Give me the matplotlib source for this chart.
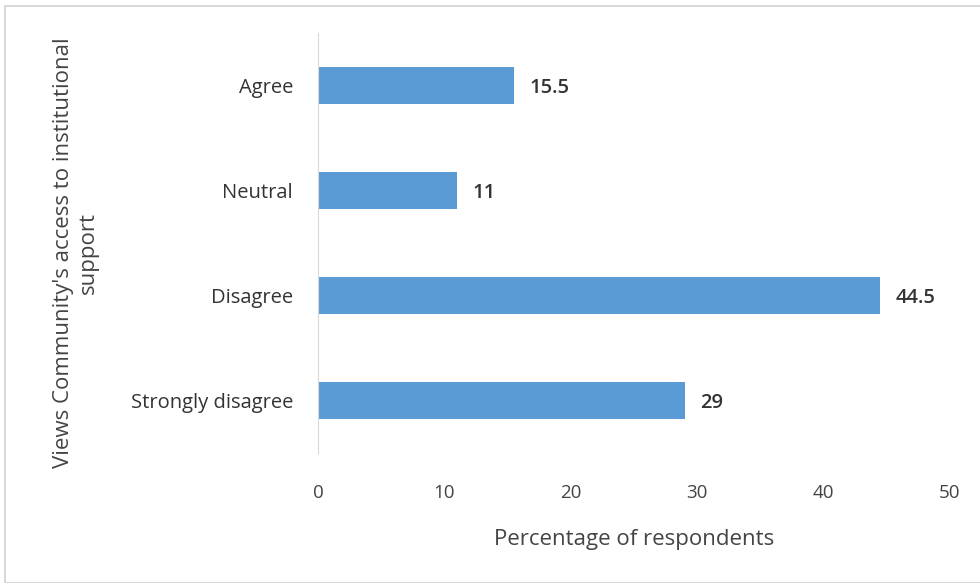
"""Horizontal bar chart: views on community's access to institutional support"""

import matplotlib.pyplot as plt
from matplotlib.patches import Rectangle

categories = ["Strongly disagree", "Disagree", "Neutral", "Agree"]
percentages = [29, 44.5, 11, 15.5]
value_labels = ["29", "44.5", "11", "15.5"]
x_ticks = [0, 10, 20, 30, 40, 50]


def main():
    plt.rcParams["font.family"] = ["Open Sans", "DejaVu Sans"]
    fig = plt.figure(figsize=(9.8, 5.83), dpi=100)
    ax = fig.add_axes([318 / 980, 1 - 453 / 583, (950 - 318) / 980, 420 / 583])

    ax.barh(categories, percentages, height=0.36, color="#5b9bd5")
    for i, (v, lab) in enumerate(zip(percentages, value_labels)):
        ax.text(v + 1.2, i - 0.02, lab, va="center", ha="left", fontsize=14.5,
                color="#333333", fontweight="semibold")

    ax.set_xlim(0, 50)
    ax.set_ylim(-0.5, 3.5)
    ax.set_xticks(x_ticks)
    ax.tick_params(axis="x", length=0, pad=22, labelsize=13.5, labelcolor="#444444")
    ax.tick_params(axis="y", length=0, pad=18, labelsize=14.5, labelcolor="#333333")
    for side in ["top", "right", "bottom"]:
        ax.spines[side].set_visible(False)
    ax.spines["left"].set_color("#d9d9d9")

    ax.set_xlabel("Percentage of respondents", fontsize=16, color="#444444",
                  labelpad=20)
    fig.text(76 / 980, 1 - 253 / 583,
             "Views Community's access to institutional\nsupport",
             rotation=90, ha="center", va="center", fontsize=16,
             color="#444444", linespacing=1.2)

    fig.patches.append(Rectangle((5 / 980, 0), 1, 1 - 6 / 583, fill=False,
                                 edgecolor="#d9d9d9", linewidth=1.5,
                                 transform=fig.transFigure))
    fig.savefig("out.png", dpi=100)


if __name__ == "__main__":
    main()
